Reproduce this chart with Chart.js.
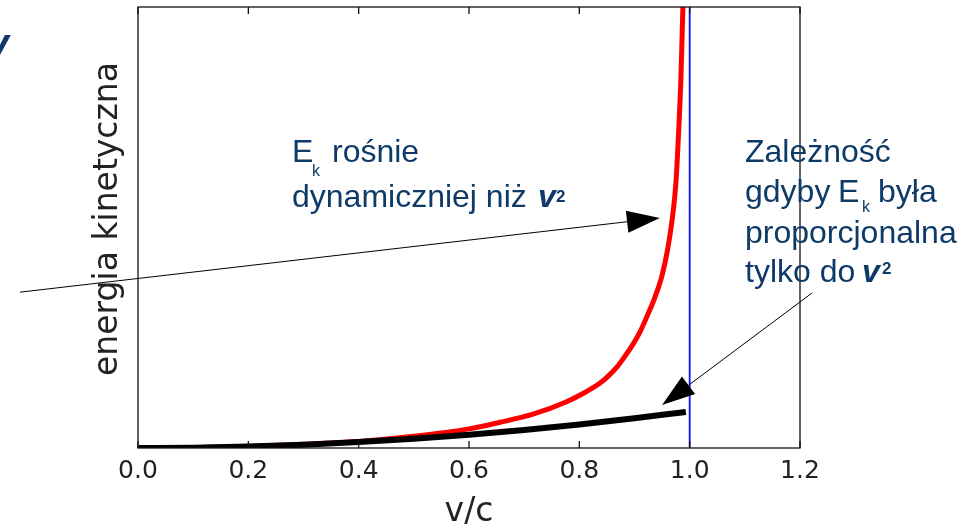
<!DOCTYPE html>
<html>
<head>
<meta charset="utf-8">
<script src="https://cdn.jsdelivr.net/npm/chart.js@4.4.1/dist/chart.umd.min.js"></script>
<style>
  html, body { margin: 0; padding: 0; background: #fff; }
  #wrap { width: 961px; height: 528px; position: relative; }
</style>
</head>
<body>
<div id="wrap"><canvas id="ekChart"></canvas></div>
<script>
// values, energy in units of mc^2
var vRel = [0, 0.1, 0.2, 0.3, 0.4, 0.5, 0.6, 0.656, 0.716, 0.777, 0.81, 0.837, 0.85, 0.868, 0.88, 0.898, 0.91, 0.922, 0.937, 0.95, 0.96, 0.969, 0.975, 0.98, 0.984, 0.987, 0.99];
var ekRel = [0, 0.005, 0.02, 0.05, 0.09, 0.16, 0.26, 0.35, 0.46, 0.63, 0.755, 0.88, 0.96, 1.10, 1.22, 1.42, 1.58, 1.78, 2.05, 2.35, 2.7, 3.15, 3.6, 4.3, 5.0, 5.8, 6.6];
var vClassic = [0, 0.1, 0.2, 0.3, 0.4, 0.5, 0.6, 0.7, 0.8, 0.9, 0.993];
var ekClassic = [0, 0.005, 0.02, 0.045, 0.08, 0.125, 0.18, 0.245, 0.32, 0.405, 0.49];
var lightX = [1.0, 1.0];
var lightY = [0, 6];
var xTicks = [0, 0.2, 0.4, 0.6, 0.8, 1.0, 1.2];
var xTickLabels = ['0.0', '0.2', '0.4', '0.6', '0.8', '1.0', '1.2'];
// annotation arrows, [from, to] in data units
var arrowRel = [[-0.214, 2.12], [0.946, 3.13]];
var arrowClassic = [[1.222, 2.11], [0.950, 0.585]];

var NAVY = '#0e3a68';

function pts(xs, ys) {
    return xs.map(function (x, i) { return { x: x, y: ys[i] }; });
}

function drawArrow(ctx, x0, y0, x1, y1) {
    var ang = Math.atan2(y1 - y0, x1 - x0), L = 33, W = 11;
    var bx = x1 - L * Math.cos(ang), by = y1 - L * Math.sin(ang);
    ctx.beginPath();
    ctx.moveTo(x0, y0);
    ctx.lineTo(bx, by);
    ctx.stroke();
    ctx.beginPath();
    ctx.moveTo(x1, y1);
    ctx.lineTo(bx + W * Math.sin(ang), by - W * Math.cos(ang));
    ctx.lineTo(bx - W * Math.sin(ang), by + W * Math.cos(ang));
    ctx.closePath();
    ctx.fill();
}

function txt(ctx, s, x, y, font) {
    ctx.font = font;
    ctx.fillText(s, x, y);
}

var extras = {
    id: 'extras',
    afterDraw: function (chart) {
        var ctx = chart.ctx, a = chart.chartArea;
        var xs = chart.scales.x, ys = chart.scales.y;
        ctx.save();

        // frame and inward ticks
        ctx.strokeStyle = '#111';
        ctx.lineWidth = 1.3;
        ctx.strokeRect(a.left, a.top, a.right - a.left, a.bottom - a.top);
        xTicks.forEach(function (v) {
            var px = xs.getPixelForValue(v);
            ctx.beginPath();
            ctx.moveTo(px, a.bottom); ctx.lineTo(px, a.bottom - 7);
            ctx.moveTo(px, a.top); ctx.lineTo(px, a.top + 7);
            ctx.stroke();
        });

        // y axis title
        ctx.save();
        ctx.translate(117, 219);
        ctx.rotate(-Math.PI / 2);
        ctx.fillStyle = '#222';
        ctx.textAlign = 'center';
        ctx.textBaseline = 'alphabetic';
        txt(ctx, 'energia kinetyczna', 0, 0, '33px "DejaVu Sans"');
        ctx.restore();

        // slide text
        ctx.fillStyle = NAVY;
        ctx.textBaseline = 'alphabetic';
        var F = '32px "Liberation Sans", Arial, sans-serif';
        var FS = '16px "Liberation Sans", Arial, sans-serif';
        var FV = 'italic bold 32px "Liberation Sans", Arial, sans-serif';
        var F2 = 'bold 17px "Liberation Sans", Arial, sans-serif';

        ctx.textAlign = 'right';
        txt(ctx, 'v', 9, 57, 'italic bold 40px "Liberation Sans", Arial, sans-serif');
        ctx.textAlign = 'left';

        txt(ctx, 'E', 292, 162, F);
        txt(ctx, 'k', 312, 176, FS);
        txt(ctx, 'rośnie', 332, 162, F);
        txt(ctx, 'dynamiczniej niż', 292, 207, F);
        txt(ctx, 'v', 538, 207, FV);
        txt(ctx, '2', 556, 202, F2);

        txt(ctx, 'Zależność', 745, 162, F);
        txt(ctx, 'gdyby', 745, 202, F);
        txt(ctx, 'E', 838, 202, F);
        txt(ctx, 'k', 862, 212, FS);
        txt(ctx, 'była', 878, 202, F);
        txt(ctx, 'proporcjonalna', 745, 243, F);
        txt(ctx, 'tylko do', 745, 282, F);
        txt(ctx, 'v', 862, 282, FV);
        txt(ctx, '2', 882, 274, F2);

        // arrows
        ctx.strokeStyle = '#000';
        ctx.fillStyle = '#000';
        ctx.lineWidth = 1;
        [arrowRel, arrowClassic].forEach(function (ar) {
            drawArrow(ctx,
                xs.getPixelForValue(ar[0][0]), ys.getPixelForValue(ar[0][1]),
                xs.getPixelForValue(ar[1][0]), ys.getPixelForValue(ar[1][1]));
        });
        ctx.restore();
    }
};

var ctx = document.getElementById('ekChart').getContext('2d');
var chart = new Chart(ctx, {
    type: 'line',
    data: {
        datasets: [{
            label: 'Ek ~ v^2',
            data: pts(vClassic, ekClassic),
            borderColor: '#000000',
            borderWidth: 6,
            cubicInterpolationMode: 'monotone',
            order: 0
        }, {
            label: 'Ek',
            data: pts(vRel, ekRel),
            borderColor: '#ff0000',
            borderWidth: 5,
            cubicInterpolationMode: 'monotone',
            order: 1
        }, {
            label: 'c',
            data: pts(lightX, lightY),
            borderColor: '#1010ff',
            borderWidth: 1.8,
            order: 2
        }]
    },
    options: {
        responsive: true,
        maintainAspectRatio: false,
        animation: false,
        layout: { padding: { top: 7, right: 161, left: 0, bottom: 0 } },
        datasets: { line: { pointRadius: 0, clip: 0, fill: false } },
        plugins: { legend: { display: false }, tooltip: { enabled: false } },
        scales: {
            x: {
                type: 'linear',
                min: 0,
                max: 1.2,
                afterBuildTicks: function (s) { s.ticks = xTicks.map(function (v) { return { value: v }; }); },
                afterFit: function (s) { s.height = 80; },
                grid: { display: false, drawTicks: false },
                border: { display: false },
                ticks: {
                    callback: function (v, i) { return xTickLabels[i]; },
                    font: { family: 'DejaVu Sans', size: 25 },
                    color: '#222',
                    padding: 8,
                    maxRotation: 0,
                    autoSkip: false
                },
                title: {
                    display: true,
                    text: 'v/c',
                    font: { family: 'DejaVu Sans', size: 33, lineHeight: 0.95 },
                    color: '#222',
                    padding: { top: 0, bottom: 0 }
                }
            },
            y: {
                type: 'linear',
                min: 0,
                max: 6,
                afterFit: function (s) { s.width = 138; },
                ticks: { display: false },
                grid: { display: false, drawTicks: false },
                border: { display: false }
            }
        }
    },
    plugins: [extras]
});
</script>
</body>
</html>
